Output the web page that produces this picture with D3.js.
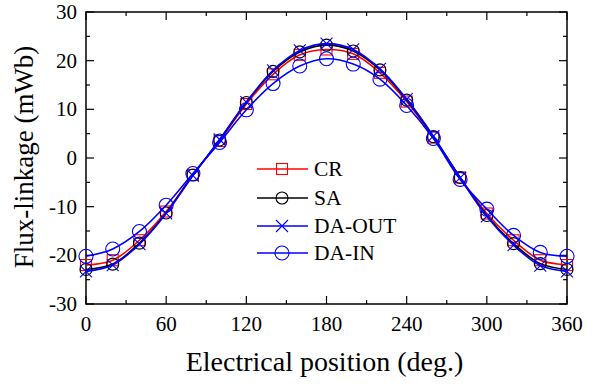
<!DOCTYPE html>
<html>
<head>
<meta charset="utf-8">
<script src="https://cdn.jsdelivr.net/npm/d3@7"></script>
<style>
  body { margin: 0; background: #fff; }
</style>
</head>
<body>
<script>
// chart size and plot box
var w = 598;
var h = 389;
var margin = {left: 86, right: 31, top: 12, bottom: 85};
var serif = "'Liberation Serif', 'DejaVu Serif', 'Times New Roman', serif";

// data
var angles = [0, 20, 40, 60, 80, 100, 120, 140, 160, 180, 200, 220, 240, 260, 280, 300, 320, 340, 360];
var crVals = [-22.0, -21.0, -16.9, -11.0, -3.5, 3.5, 11.1, 17.2, 21.2, 22.3, 21.4, 17.5, 11.6, 4.2, -4.0, -11.4, -16.9, -21.0, -22.0];
var saVals = [-22.9, -21.8, -17.5, -11.3, -3.5, 3.7, 11.4, 17.8, 21.8, 23.2, 22.0, 18.1, 11.9, 4.4, -4.0, -11.8, -17.6, -21.7, -22.9];
var daOutVals = [-23.3, -22.0, -17.7, -11.4, -3.6, 3.8, 11.5, 18.0, 22.1, 23.5, 22.3, 18.3, 12.1, 4.5, -4.1, -12.0, -17.9, -22.1, -23.3];
var daInVals = [-20.2, -18.7, -15.1, -9.7, -3.2, 3.2, 9.9, 15.3, 18.9, 20.4, 19.3, 16.2, 10.8, 4.0, -4.4, -10.5, -15.9, -19.4, -20.2];

var xTicks = [0, 60, 120, 180, 240, 300, 360];
var yTicks = [-30, -20, -10, 0, 10, 20, 30];

var series = [
    {name: "CR", vals: crVals, color: "#ff0000", marker: "square"},
    {name: "SA", vals: saVals, color: "#000000", marker: "circle"},
    {name: "DA-OUT", vals: daOutVals, color: "#0000ff", marker: "cross"},
    {name: "DA-IN", vals: daInVals, color: "#0000ff", marker: "bigcircle"}
];

var x0 = margin.left, x1 = w - margin.right;
var y0 = h - margin.bottom, y1 = margin.top;

var xScale = d3.scaleLinear().domain([0, 360]).range([x0, x1]);
var yScale = d3.scaleLinear().domain([-30, 30]).range([y0, y1]);

var svg = d3.select("body").append("svg")
    .attr("width", w)
    .attr("height", h)
    .attr("font-family", serif);

// plot box
svg.append("rect")
    .attr("x", x0).attr("y", y1)
    .attr("width", x1 - x0).attr("height", y0 - y1)
    .attr("fill", "none").attr("stroke", "#000").attr("stroke-width", 1.5);

// ticks (inward) on all four sides
function drawTicks(vals, len) {
    vals.forEach(function(v) {
        var px = xScale(v);
        svg.append("line").attr("x1", px).attr("x2", px).attr("y1", y0).attr("y2", y0 - len)
            .attr("stroke", "#000").attr("stroke-width", 1.2);
        svg.append("line").attr("x1", px).attr("x2", px).attr("y1", y1).attr("y2", y1 + len)
            .attr("stroke", "#000").attr("stroke-width", 1.2);
    });
}
drawTicks(d3.range(0, 361, 60), 8);
drawTicks(d3.range(30, 360, 60), 4);

function drawYTicks(vals, len) {
    vals.forEach(function(v) {
        var py = yScale(v);
        svg.append("line").attr("x1", x0).attr("x2", x0 + len).attr("y1", py).attr("y2", py)
            .attr("stroke", "#000").attr("stroke-width", 1.2);
        svg.append("line").attr("x1", x1).attr("x2", x1 - len).attr("y1", py).attr("y2", py)
            .attr("stroke", "#000").attr("stroke-width", 1.2);
    });
}
drawYTicks(yTicks, 8);
drawYTicks(d3.range(-25, 30, 10), 4);

// tick labels
svg.selectAll(".xlab").data(xTicks).enter().append("text")
    .attr("x", function(d) { return xScale(d); })
    .attr("y", y0 + 27)
    .attr("text-anchor", "middle")
    .attr("font-size", 21)
    .text(function(d) { return d; });

svg.selectAll(".ylab").data(yTicks).enter().append("text")
    .attr("x", x0 - 9)
    .attr("y", function(d) { return yScale(d) + 7; })
    .attr("text-anchor", "end")
    .attr("font-size", 21)
    .text(function(d) { return d; });

// axis titles
svg.append("text")
    .attr("x", (x0 + x1) / 2 - 2)
    .attr("y", h - 18)
    .attr("text-anchor", "middle")
    .attr("font-size", 28)
    .text("Electrical position (deg.)");

svg.append("text")
    .attr("transform", "rotate(-90)")
    .attr("x", -157)
    .attr("y", 33)
    .attr("text-anchor", "middle")
    .attr("font-size", 27)
    .text("Flux-linkage (mWb)");

var line = d3.line()
    .x(function(d, i) { return xScale(angles[i]); })
    .y(function(d) { return yScale(d); })
    .curve(d3.curveCatmullRom);

function drawMarker(g, type, color, cx, cy) {
    if (type === "square") {
        g.append("rect").attr("x", cx - 5.5).attr("y", cy - 5.5).attr("width", 11).attr("height", 11)
            .attr("fill", "none").attr("stroke", color).attr("stroke-width", 1.1);
    } else if (type === "circle") {
        g.append("circle").attr("cx", cx).attr("cy", cy).attr("r", 6)
            .attr("fill", "none").attr("stroke", color).attr("stroke-width", 1.1);
    } else if (type === "bigcircle") {
        g.append("circle").attr("cx", cx).attr("cy", cy).attr("r", 7)
            .attr("fill", "none").attr("stroke", color).attr("stroke-width", 1.1);
    } else {
        g.append("path").attr("d", "M" + (cx - 6) + "," + (cy - 6) + "L" + (cx + 6) + "," + (cy + 6) +
            "M" + (cx - 6) + "," + (cy + 6) + "L" + (cx + 6) + "," + (cy - 6))
            .attr("fill", "none").attr("stroke", color).attr("stroke-width", 1.1);
    }
}

// series lines and markers
series.forEach(function(s) {
    svg.append("path")
        .datum(s.vals)
        .attr("d", line)
        .attr("fill", "none")
        .attr("stroke", s.color)
        .attr("stroke-width", 1.6);
    var g = svg.append("g");
    s.vals.forEach(function(v, i) {
        drawMarker(g, s.marker, s.color, xScale(angles[i]), yScale(v));
    });
});

// legend
var legY = [169, 198, 226, 253];
series.forEach(function(s, i) {
    var g = svg.append("g");
    g.append("line").attr("x1", 257).attr("x2", 308).attr("y1", legY[i]).attr("y2", legY[i])
        .attr("stroke", s.color).attr("stroke-width", 1.6);
    drawMarker(g, s.marker, s.color, 282, legY[i]);
    g.append("text").attr("x", 314).attr("y", legY[i] + 7)
        .attr("font-size", 21.5)
        .text(s.name);
});
</script>
</body>
</html>
